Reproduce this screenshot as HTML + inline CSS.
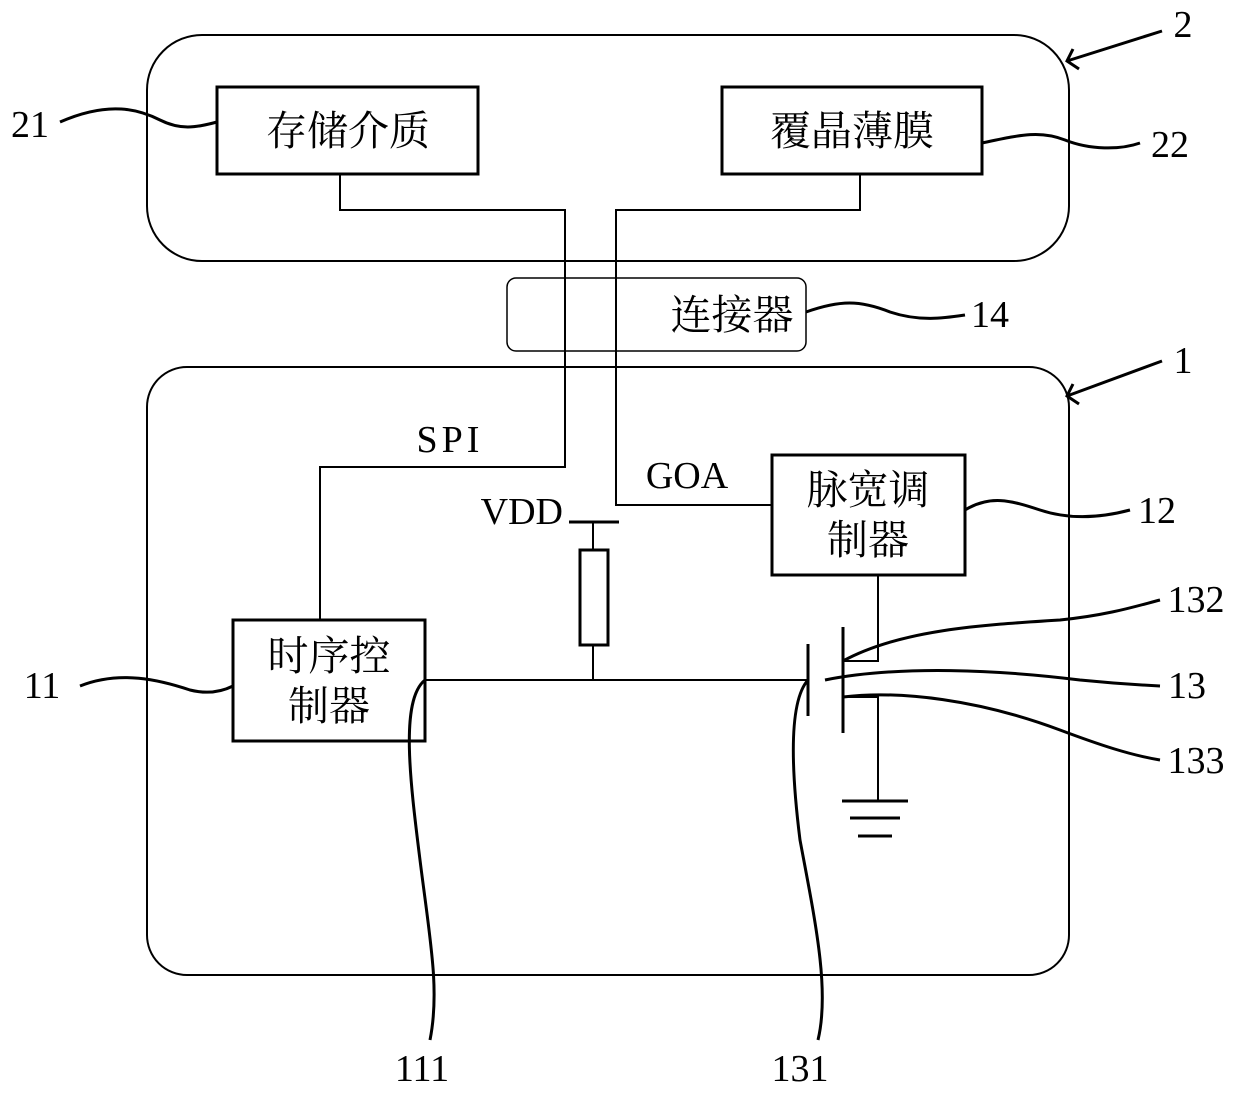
<!DOCTYPE html>
<html><head><meta charset="utf-8"><style>
html,body{margin:0;padding:0;background:#fff;}
svg text{font-family:"Liberation Serif","Noto Serif CJK SC",serif;fill:#000;}
.cn{font-family:"Liberation Serif","Noto Serif CJK SC","Noto Sans CJK SC",serif;font-size:41px;}
.lb{font-size:38px;}
</style></head><body>
<svg width="1240" height="1095" viewBox="0 0 1240 1095" xmlns="http://www.w3.org/2000/svg">
<g fill="none" stroke="#000" stroke-width="2">
<rect x="147" y="35" width="922" height="226" rx="55"/>
<rect x="147" y="367" width="922" height="608" rx="40"/>
<rect x="507" y="278" width="299" height="73" rx="9" stroke-width="1.5"/>
<rect x="217" y="87" width="261" height="87" stroke-width="3"/>
<rect x="722" y="87" width="260" height="87" stroke-width="3"/>
<rect x="233" y="620" width="192" height="121" stroke-width="3"/>
<rect x="772" y="455" width="193" height="120" stroke-width="3"/>
<polyline points="340,174 340,210 565,210 565,467 320,467 320,620"/>
<polyline points="860,174 860,210 616,210 616,505 772,505"/>
<line x1="569" y1="522" x2="619" y2="522" stroke-width="3"/>
<line x1="593" y1="522" x2="593" y2="550"/>
<rect x="580" y="550" width="28" height="95" stroke-width="3"/>
<line x1="593" y1="645" x2="593" y2="680"/>
<line x1="425" y1="680" x2="808" y2="680"/>
<line x1="808" y1="644" x2="808" y2="716" stroke-width="3"/>
<line x1="843" y1="627" x2="843" y2="733" stroke-width="3"/>
<polyline points="878,575 878,661 843,661"/>
<polyline points="843,697 878,697 878,801"/>
<line x1="842" y1="801" x2="908" y2="801" stroke-width="3"/>
<line x1="850" y1="818" x2="900" y2="818" stroke-width="3"/>
<line x1="858" y1="836" x2="892" y2="836" stroke-width="3"/>
<line x1="1162" y1="31" x2="1067" y2="61" stroke-width="3"/>
<polyline points="1073,49 1067,61 1079,69" stroke-width="3"/>
<line x1="1162" y1="361" x2="1067" y2="396" stroke-width="3"/>
<polyline points="1073,384 1067,396 1079,404" stroke-width="3"/>
<g stroke-width="3">
<path d="M60,122 C110,100 140,110 160,120 C180,130 195,128 217,122"/>
<path d="M982,143 C1020,135 1040,130 1065,140 C1090,150 1120,150 1140,143"/>
<path d="M806,312 C840,300 860,300 890,312 C920,322 945,318 965,315"/>
<path d="M965,510 C990,495 1010,500 1040,510 C1070,520 1100,518 1130,510"/>
<path d="M80,686 C120,670 160,680 190,690 C210,695 225,690 233,686"/>
<path d="M843,661 C900,630 980,625 1060,620 C1110,615 1140,605 1160,600"/>
<path d="M825,680 C900,665 1000,670 1080,680 C1110,683 1140,685 1160,686"/>
<path d="M843,697 C900,690 980,700 1060,730 C1100,745 1130,755 1160,760"/>
<path d="M425,680 C400,700 410,780 420,860 C430,940 440,990 430,1040"/>
<path d="M808,680 C790,700 790,760 800,840 C815,920 830,990 818,1040"/>
</g>
</g>
<text class="cn" x="348" y="145" text-anchor="middle">存储介质</text>
<text class="cn" x="852" y="145" text-anchor="middle">覆晶薄膜</text>
<text class="cn" x="732" y="329" text-anchor="middle">连接器</text>
<text class="cn" x="329" y="670" text-anchor="middle">时序控</text>
<text class="cn" x="329" y="720" text-anchor="middle">制器</text>
<text class="cn" x="868" y="504" text-anchor="middle">脉宽调</text>
<text class="cn" x="868" y="554" text-anchor="middle">制器</text>
<text class="lb" x="450" y="452" text-anchor="middle" font-size="34" letter-spacing="4">SPI</text>
<text class="lb" x="687" y="488" text-anchor="middle" font-size="34">GOA</text>
<text class="lb" x="563" y="524" text-anchor="end" font-size="34">VDD</text>
<text class="lb" x="1183" y="37" text-anchor="middle">2</text>
<text class="lb" x="1183" y="373" text-anchor="middle">1</text>
<text class="lb" x="30" y="137" text-anchor="middle">21</text>
<text class="lb" x="1170" y="157" text-anchor="middle">22</text>
<text class="lb" x="990" y="327" text-anchor="middle">14</text>
<text class="lb" x="1157" y="523" text-anchor="middle">12</text>
<text class="lb" x="1196" y="612" text-anchor="middle">132</text>
<text class="lb" x="1187" y="698" text-anchor="middle">13</text>
<text class="lb" x="1196" y="773" text-anchor="middle">133</text>
<text class="lb" x="42" y="698" text-anchor="middle">11</text>
<text class="lb" x="422" y="1081" text-anchor="middle">111</text>
<text class="lb" x="800" y="1081" text-anchor="middle">131</text>
</svg>
</body></html>
